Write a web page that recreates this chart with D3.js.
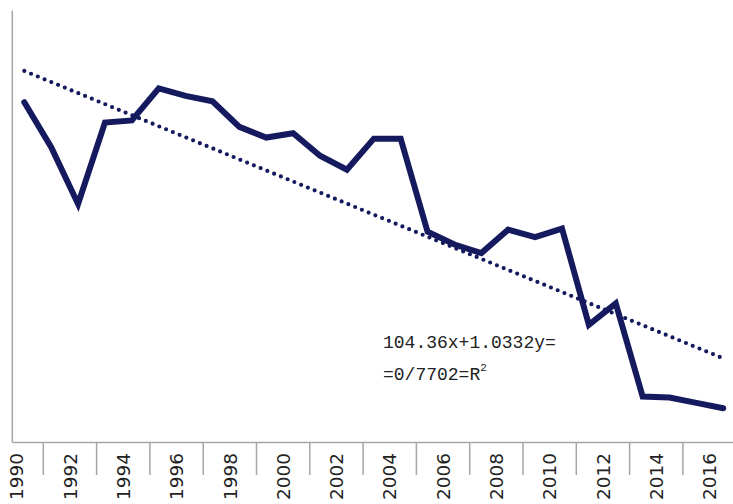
<!DOCTYPE html>
<html>
<head>
<meta charset="utf-8">
<script src="https://cdn.jsdelivr.net/npm/d3@7/dist/d3.min.js"></script>
<style>
  html, body { margin: 0; padding: 0; background: #ffffff; }
  svg { display: block; }
</style>
</head>
<body>
<svg id="chart" width="733" height="504"></svg>
<script>
// ---- data ----
const years = [1990, 1991, 1992, 1993, 1994, 1995, 1996, 1997, 1998, 1999,
               2000, 2001, 2002, 2003, 2004, 2005, 2006, 2007, 2008, 2009,
               2010, 2011, 2012, 2013, 2014, 2015, 2016];
const values = [100.4, 96.2, 90.9, 98.5, 98.7, 101.7, 101.0, 100.5, 98.1, 97.1,
                97.5, 95.4, 94.1, 97.0, 97.0, 88.3, 87.1, 86.3, 88.5, 87.8,
                88.6, 79.6, 81.6, 72.9, 72.8, 72.3, 71.8];
const tickLabels = ["1990", "1992", "1994", "1996", "1998", "2000", "2002",
                    "2004", "2006", "2008", "2010", "2012", "2014", "2016"];
const trendSlope = -1.0332;
const trendIntercept = 104.36;
const equationLines = ["104.36x+1.0332y=", "=0/7702=R"];

// ---- layout ----
const svg = d3.select("#chart");
const axisX0 = 12.3, axisRight = 733, axisY = 442.5, plotTop = 10.8;
const navy = "#151a5f";
const grey = "#a6a6a6";

const x = d3.scaleLinear().domain([years[0], years[years.length - 1]]).range([24.3, 723.3]);
const y = d3.scaleLinear().domain([68.6, 108.95]).range([axisY, plotTop]);
const xLab = d3.scaleBand().domain(tickLabels).range([-10, 736.2]).padding(0);

// axes lines
svg.append("line").attr("x1", axisX0).attr("x2", axisX0).attr("y1", plotTop).attr("y2", axisY)
  .attr("stroke", grey).attr("stroke-width", 1.5);
svg.append("line").attr("x1", axisX0).attr("x2", axisRight).attr("y1", axisY).attr("y2", axisY)
  .attr("stroke", grey).attr("stroke-width", 1.5);

// separator ticks between label groups
svg.append("g").selectAll("line")
  .data(tickLabels.slice(1))
  .join("line")
  .attr("x1", d => xLab(d)).attr("x2", d => xLab(d))
  .attr("y1", axisY).attr("y2", 475)
  .attr("stroke", grey).attr("stroke-width", 1.5);

// labels
const axis = d3.axisBottom(xLab).tickSize(0).tickSizeOuter(0);
const gAxis = svg.append("g").attr("transform", `translate(0,${axisY})`).call(axis);
gAxis.select(".domain").remove();
gAxis.selectAll(".tick text")
  .attr("font-family", "DejaVu Sans")
  .attr("font-size", 18.5)
  .attr("fill", "#222")
  .attr("text-anchor", "end")
  .attr("transform", "rotate(-90)")
  .attr("x", -10.5)
  .attr("y", 0)
  .attr("dy", "0.36em");

// trend line (from equation, x index 1..n)
const trendData = [years[0], years[years.length - 1]].map(yr => ({
  yr, v: trendIntercept + trendSlope * (yr - years[0] + 1)
}));
svg.append("path")
  .datum(trendData)
  .attr("d", d3.line().x(d => x(d.yr)).y(d => y(d.v)))
  .attr("fill", "none")
  .attr("stroke", navy)
  .attr("stroke-width", 4.2)
  .attr("stroke-linecap", "round")
  .attr("stroke-dasharray", "0 7.3");

// main series
svg.append("path")
  .datum(years.map((yr, i) => ({ yr, v: values[i] })))
  .attr("d", d3.line().x(d => x(d.yr)).y(d => y(d.v)))
  .attr("fill", "none")
  .attr("stroke", navy)
  .attr("stroke-width", 6)
  .attr("stroke-linejoin", "miter")
  .attr("stroke-miterlimit", 10)
  .attr("stroke-linecap", "round");

// equation annotation
const eq = svg.append("g")
  .attr("font-family", "Liberation Mono")
  .attr("font-size", 18)
  .attr("fill", "#222");
eq.append("text").attr("x", 383).attr("y", 348).text(equationLines[0]);
const t2 = eq.append("text").attr("x", 383).attr("y", 380);
t2.append("tspan").text(equationLines[1]);
t2.append("tspan").attr("font-size", 11).attr("dy", -9).text("2");
</script>
</body>
</html>
